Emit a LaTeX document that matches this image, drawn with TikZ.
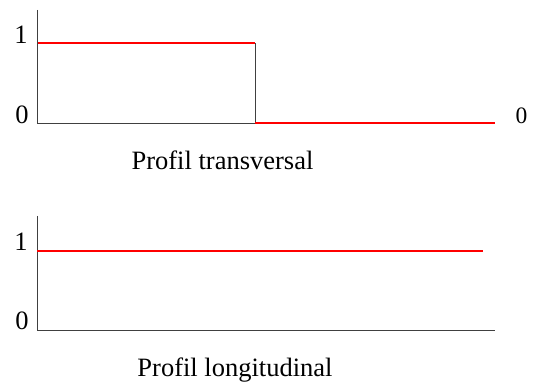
\documentclass[tikz,border=0pt]{standalone}
\usepackage{fontspec}
\setmainfont{Liberation Serif}
\begin{document}
\begin{tikzpicture}[x=1pt,y=1pt,
  axis/.style={draw=black!75,line width=1pt},
  sig/.style={draw=red,line width=2pt},
  lbl/.style={inner sep=0pt,anchor=base,font=\fontsize{26.5}{30}\selectfont},
  lblsmall/.style={inner sep=0pt,anchor=base,font=\fontsize{23.5}{27}\selectfont}]
\useasboundingbox (0,0) rectangle (535,387);
% top plot
\coordinate (t0) at (37.5,263);
\coordinate (ttop) at (37.5,377);
\coordinate (t1) at (37.5,343.5);
\coordinate (tstep) at (255,343.5);
\coordinate (tstepb) at (255,263);
\coordinate (tend) at (495,263.5);
\coordinate (tstepr) at (255,263.5);
\draw[axis] (ttop) -- (t0) -- (tstepb);
\draw[axis] (tstep) -- (tstepb);
\draw[sig] (t1) -- (tstep);
\draw[sig] (tstepr) -- (tend);
\node[lbl] (tl1) at (21,343) {1};
\node[lbl] (tl0) at (22,263) {0};
\node[lblsmall] (tr0) at (521.5,263) {0};
\node[lbl] (tcap) at (222.5,217) {Profil transversal};
% bottom plot
\coordinate (b0) at (37.3,56.3);
\coordinate (btop) at (37.3,171);
\coordinate (bend) at (495,56.3);
\coordinate (b1) at (37.3,136.3);
\coordinate (b1e) at (483.3,136.3);
\draw[axis] (btop) -- (b0) -- (bend);
\draw[sig] (b1) -- (b1e);
\node[lbl] (bl1) at (21,136) {1};
\node[lbl] (bl0) at (22,57) {0};
\node[lbl] (bcap) at (235,10.3) {Profil longitudinal};
\end{tikzpicture}
\end{document}
